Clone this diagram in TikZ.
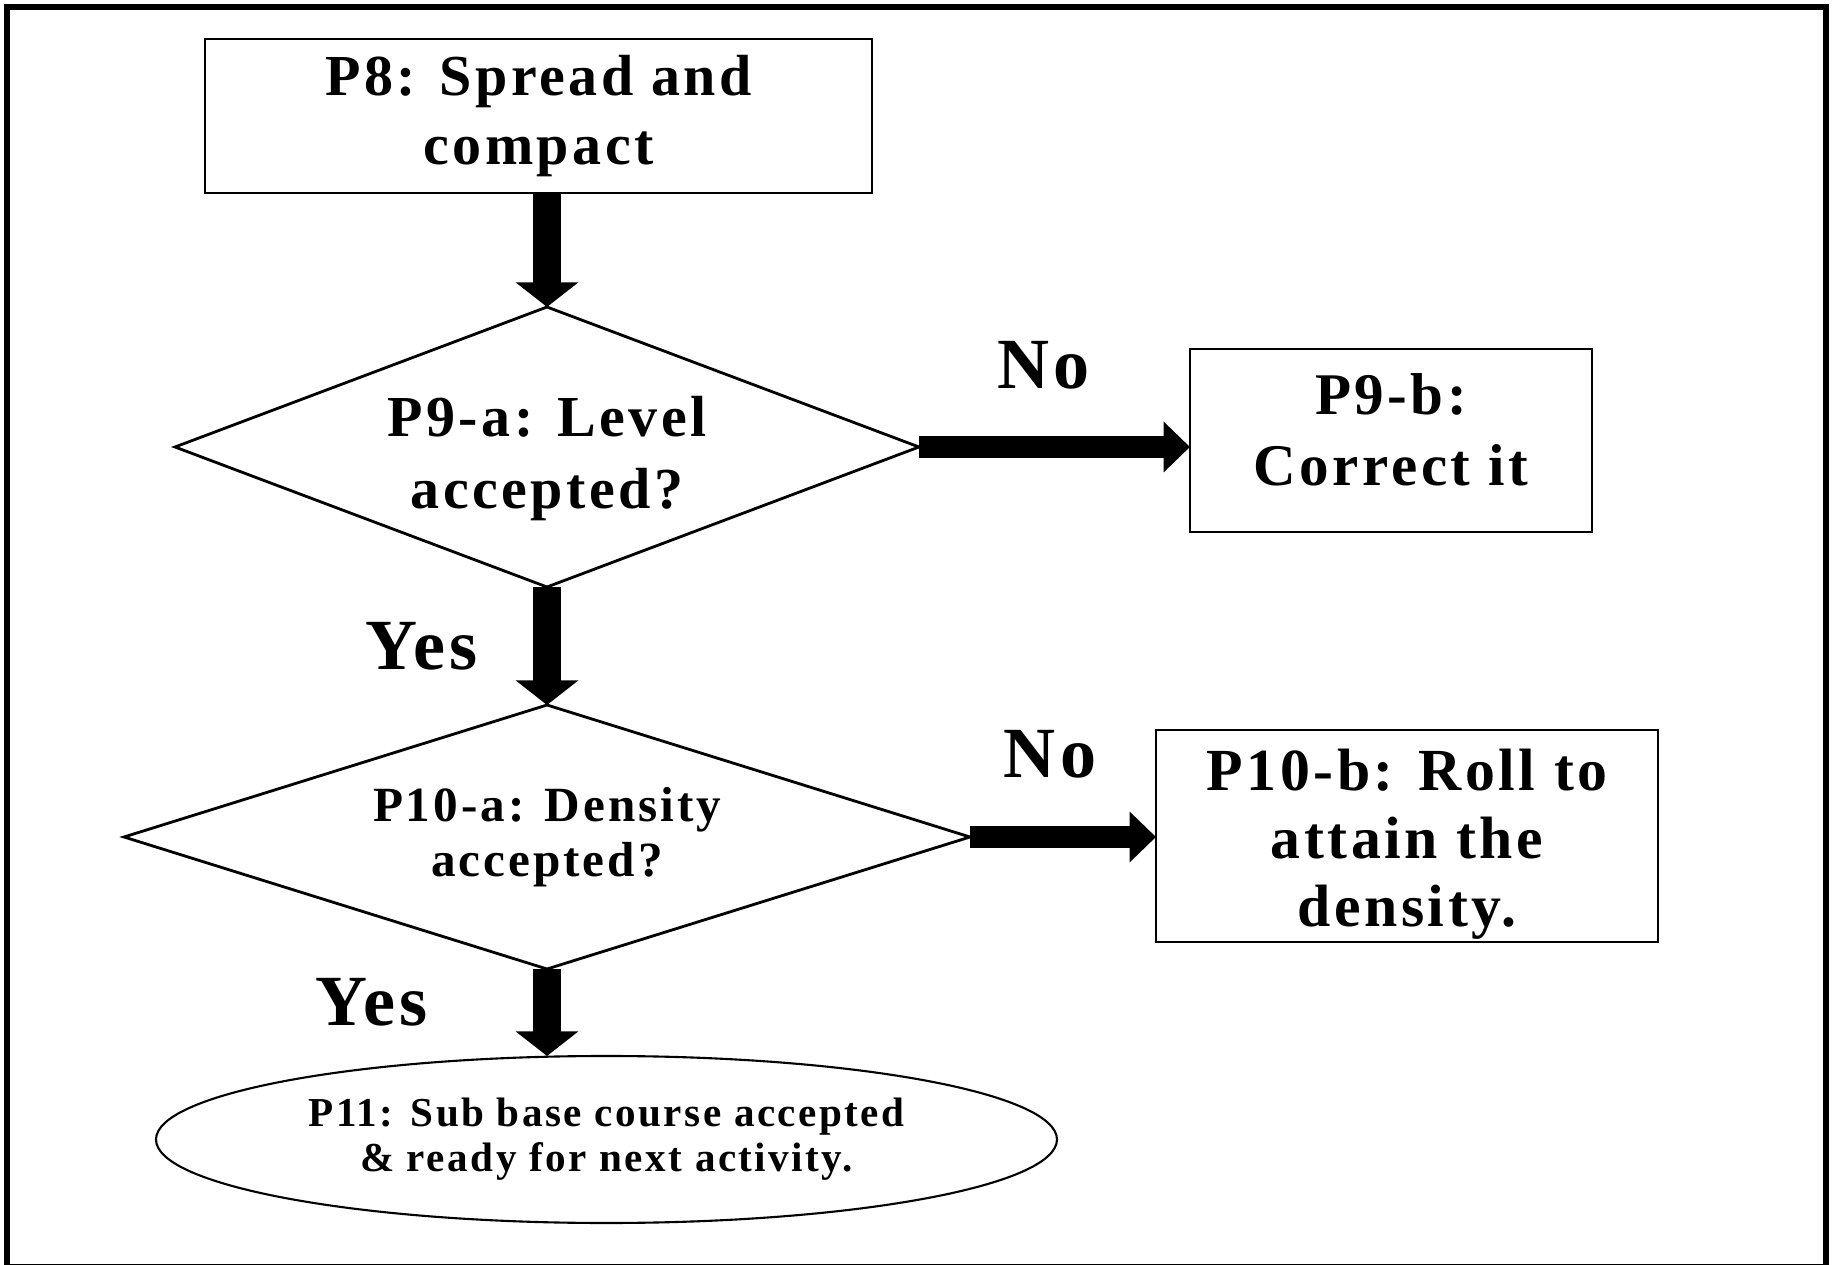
\documentclass[tikz,border=0pt]{standalone}
\usepackage{fontspec}
\setmainfont{Liberation Serif}[LetterSpace=6]
\usetikzlibrary{arrows.meta, positioning}
\usetikzlibrary{shapes.geometric}

\newcommand{\fs}[2]{\fontsize{#1}{#2}\selectfont\bfseries}

\begin{document}
\begin{tikzpicture}[>={Triangle[length=7pt,width=17.5pt]}, semithick,
  box/.style={draw, line width=0.8pt, inner sep=0pt, outer sep=0pt, align=center},
  decision/.style={draw, diamond, line width=0.8pt, inner sep=0pt, outer sep=0pt, align=center},
  terminal/.style={draw, ellipse, line width=0.6pt, inner sep=0pt, outer sep=0pt, align=center},
  downarrow/.style={->, line width=8pt},
  sidearrow/.style={-{Triangle[length=7.5pt,width=14pt]}, line width=6.5pt},
  answer/.style={inner sep=0pt, font={\fs{20.5}{24}}}]

\useasboundingbox (0,0) rectangle (18.35,-12.65);
\draw[line width=1.7pt] (0.07,-0.07) rectangle (18.26,-12.67);

\node[box, minimum width=6.67cm, minimum height=1.54cm, font={\fs{16.5}{19.4}}] (1) at (5.385,-1.16) {P8: Spread and\\compact};
\node[decision, aspect=2.66, minimum width=7.44cm, minimum height=2.80cm, text height=1.35cm, font={\fs{16.5}{20.4}}] (2) at (5.47,-4.47) {P9-a: Level\\accepted?};
\node[box, minimum width=4.02cm, minimum height=1.83cm, text depth=0.22cm, font={\fs{16.8}{20}}] (3) at (13.91,-4.405) {P9-b:\\Correct it};
\node[decision, aspect=3.2, minimum width=8.46cm, minimum height=2.64cm, font={\fs{14}{15.8}}] (4) at (5.47,-8.37) {P10-a: Density\\accepted?};
\node[box, minimum width=5.02cm, minimum height=2.12cm, text height=1.94cm, font={\fs{17}{19.3}}] (5) at (14.07,-8.36) {P10-b: Roll to\\attain the\\density.};
\node[terminal, minimum width=9.01cm, minimum height=1.67cm, font={\fs{11.7}{12.8}}] (6) at (6.065,-11.395) {P11: Sub base course accepted\\\& ready for next activity.};

\draw[downarrow] (2.north |- 1.south) -- (2.north);
\draw[downarrow] (2.south) -- node[answer, left=0.55cm] {Yes} (4.north);
\draw[downarrow] (4.south) -- node[answer, left=1.05cm, pos=0.38] {Yes} (4.south |- 6.north);

\draw[sidearrow] (2.east) -- node[answer, above=0.46cm, pos=0.46] {No} (3.west |- 2.east);
\draw[sidearrow] (4.east) -- node[answer, above=0.47cm, pos=0.43] {No} (5.west |- 4.east);

\end{tikzpicture}
\end{document}
